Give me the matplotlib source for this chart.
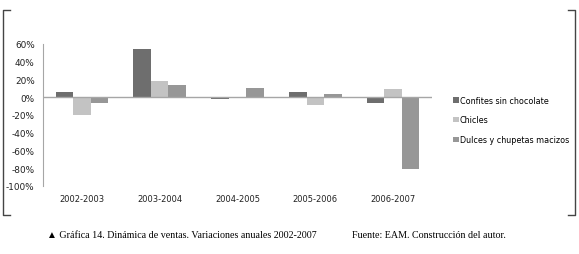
import matplotlib
matplotlib.use("Agg")
import matplotlib.pyplot as plt
import numpy as np
from matplotlib.lines import Line2D

# datos
periodos = ['2002-2003', '2003-2004', '2004-2005', '2005-2006', '2006-2007']
confites = [6, 54, -1.5, 6, -6.5]
chicles = [-20, 18, 0, -9, 9]
dulces = [-6, 14, 10, 3.5, -81]
series = ['Confites sin chocolate', 'Chicles', 'Dulces y chupetas macizos']
colores = ['#6e6e6e', '#c3c3c3', '#979797']

fig = plt.figure(figsize=(5.79, 2.55), dpi=100)
ax = fig.add_axes([43 / 579, 1 - 187 / 255, 389 / 579, 142 / 255])

x = np.arange(len(periodos))
w = 0.225
for i, (vals, nombre, c) in enumerate(zip([confites, chicles, dulces], series, colores)):
    ax.bar(x + (i - 1) * w, vals, w, color=c, label=nombre, zorder=2)

ax.axhline(0, color='#a6a6a6', lw=1, zorder=3)
ax.set_xlim(-0.5, len(periodos) - 0.5)
ax.set_ylim(-100, 60)
ax.set_yticks(range(-100, 61, 20))
ax.set_yticklabels([f'{v}%' for v in range(-100, 61, 20)])
ax.set_xticks(x)
ax.set_xticklabels(periodos)
for s in ['top', 'right', 'bottom']:
    ax.spines[s].set_visible(False)
ax.spines['left'].set_color('#a6a6a6')
ax.tick_params(axis='both', length=0, labelsize=6, colors='#222222')
ax.tick_params(axis='y', labelsize=6.4, pad=6)
ax.tick_params(axis='x', pad=6)

ax.legend(loc='center left', bbox_to_anchor=(407 / 389, 0.465),
          frameon=False, fontsize=5.8, handlelength=0.7, handleheight=0.7,
          handletextpad=0.1, labelspacing=1.35, borderaxespad=0)

# corchetes del marco
fig.add_artist(Line2D([10 / 579, 3 / 579, 3 / 579, 10 / 579],
                      [1 - 11 / 255, 1 - 11 / 255, 1 - 216 / 255, 1 - 216 / 255],
                      color='#444444', lw=1))
fig.add_artist(Line2D([568 / 579, 575 / 579, 575 / 579, 568 / 579],
                      [1 - 11 / 255, 1 - 11 / 255, 1 - 216 / 255, 1 - 216 / 255],
                      color='#444444', lw=1))

fig.text(47 / 579, 1 - 236 / 255, '\u25b2 Gráfica 14. Dinámica de ventas. Variaciones anuales 2002-2007',
         family=['Liberation Serif', 'DejaVu Sans'], fontsize=7.2, va='center')
fig.text(352 / 579, 1 - 236 / 255, 'Fuente: EAM. Construcción del autor.',
         family='Liberation Serif', fontsize=7.2, va='center')

fig.savefig('out.png', dpi=100)
